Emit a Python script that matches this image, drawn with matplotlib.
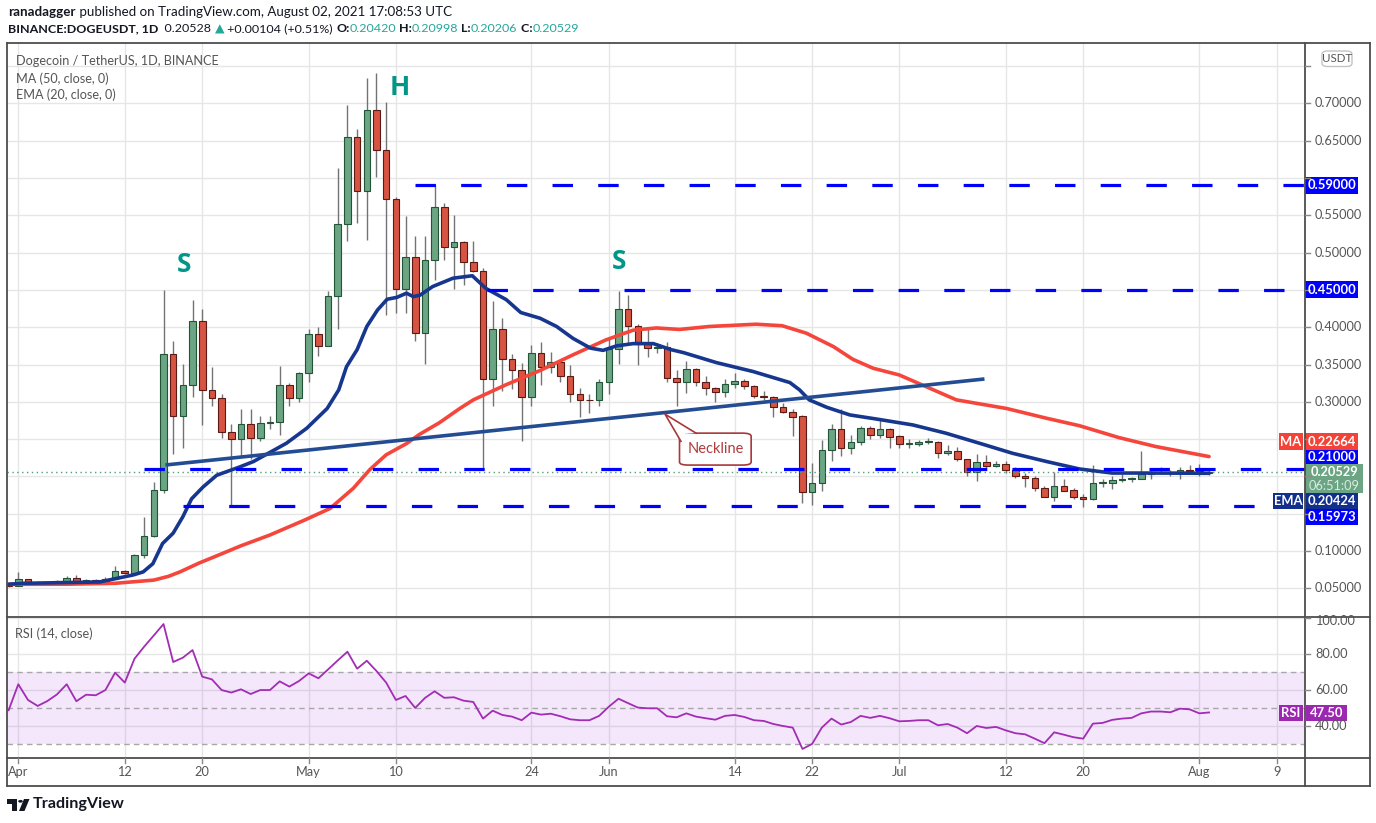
import numpy as np
import matplotlib
matplotlib.use('Agg')
import matplotlib.pyplot as plt
from matplotlib.patches import Rectangle, FancyBboxPatch, Polygon, Circle
from matplotlib.lines import Line2D

W, H = 1376, 823
FONT = ['Lato', 'DejaVu Sans']
plt.rcParams['font.family'] = FONT

# ---------------- data ----------------
day = list(range(-1, 124))   # 0 = Apr 1 2021, 123 = Aug 2 2021
opens = [0.0545, 0.0530, 0.0620, 0.0570, 0.0555, 0.0568, 0.0590, 0.0635, 0.0580, 0.0610,
         0.0590, 0.0630, 0.0737, 0.0700, 0.0946, 0.1200, 0.1820, 0.3640, 0.2810, 0.3220,
         0.4090, 0.3160, 0.3050, 0.2600, 0.2500, 0.2700, 0.2510, 0.2710, 0.2730, 0.3230,
         0.3050, 0.3380, 0.3910, 0.3750, 0.4420, 0.5390, 0.6550, 0.5820, 0.6910, 0.6370,
         0.5720, 0.4510, 0.4940, 0.3920, 0.4900, 0.5610, 0.5080, 0.5140, 0.4880, 0.4760,
         0.3300, 0.3970, 0.3580, 0.3420, 0.3060, 0.3660, 0.3460, 0.3530, 0.3340, 0.3110,
         0.3030, 0.3020, 0.3260, 0.3710, 0.4240, 0.4010, 0.3770, 0.3720, 0.3730, 0.3320,
         0.3260, 0.3440, 0.3260, 0.3190, 0.3130, 0.3240, 0.3280, 0.3210, 0.3080, 0.3070,
         0.2930, 0.2860, 0.2810, 0.1790, 0.1910, 0.2350, 0.2630, 0.2380, 0.2460, 0.2650,
         0.2560, 0.2630, 0.2540, 0.2440, 0.2440, 0.2460, 0.2460, 0.2310, 0.2340, 0.2240,
         0.2060, 0.2190, 0.2140, 0.2160, 0.2080, 0.2000, 0.1975, 0.1850, 0.1720, 0.1870,
         0.1820, 0.1730, 0.1700, 0.1910, 0.1910, 0.1950, 0.1960, 0.1970, 0.2030, 0.2050,
         0.2050, 0.2040, 0.2080, 0.2070, 0.2042]
closes = [0.0525, 0.0620, 0.0567, 0.0555, 0.0570, 0.0598, 0.0635, 0.0580, 0.0610, 0.0590,
          0.0630, 0.0737, 0.0700, 0.0946, 0.1200, 0.1820, 0.3640, 0.2810, 0.3220, 0.4090,
          0.3160, 0.3050, 0.2600, 0.2500, 0.2700, 0.2510, 0.2710, 0.2725, 0.3230, 0.3050,
          0.3380, 0.3910, 0.3750, 0.4420, 0.5390, 0.6550, 0.5820, 0.6910, 0.6370, 0.5720,
          0.4510, 0.4940, 0.3920, 0.4900, 0.5610, 0.5080, 0.5140, 0.4880, 0.4760, 0.3300,
          0.3970, 0.3580, 0.3420, 0.3060, 0.3660, 0.3460, 0.3530, 0.3340, 0.3110, 0.3030,
          0.3020, 0.3260, 0.3710, 0.4240, 0.4010, 0.3770, 0.3720, 0.3730, 0.3320, 0.3260,
          0.3440, 0.3260, 0.3180, 0.3130, 0.3240, 0.3280, 0.3210, 0.3080, 0.3070, 0.2930,
          0.2860, 0.2800, 0.1790, 0.1910, 0.2350, 0.2630, 0.2380, 0.2460, 0.2650, 0.2560,
          0.2630, 0.2530, 0.2440, 0.2450, 0.2460, 0.2465, 0.2310, 0.2340, 0.2240, 0.2060,
          0.2190, 0.2140, 0.2160, 0.2080, 0.2000, 0.1975, 0.1850, 0.1720, 0.1870, 0.1810,
          0.1730, 0.1700, 0.1910, 0.1920, 0.1950, 0.1970, 0.1980, 0.2030, 0.2050, 0.2040,
          0.2040, 0.2080, 0.2070, 0.2042, 0.2053]
highs = [0.0555, 0.0720, 0.0625, 0.0600, 0.0580, 0.0610, 0.0668, 0.0680, 0.0620, 0.0625,
         0.0650, 0.0800, 0.0745, 0.0960, 0.1460, 0.1930, 0.4500, 0.3810, 0.3510, 0.4360,
         0.4250, 0.3470, 0.3100, 0.2700, 0.2900, 0.2900, 0.2810, 0.2810, 0.3480, 0.3250,
         0.3400, 0.3980, 0.4000, 0.4490, 0.6140, 0.6980, 0.6660, 0.7340, 0.7410, 0.7020,
         0.5740, 0.5490, 0.5220, 0.5220, 0.5910, 0.5670, 0.5500, 0.5160, 0.5160, 0.4800,
         0.4350, 0.4120, 0.3640, 0.3520, 0.3760, 0.3800, 0.3670, 0.3550, 0.3490, 0.3180,
         0.3110, 0.3300, 0.3850, 0.4490, 0.4430, 0.4040, 0.3970, 0.3790, 0.3800, 0.3430,
         0.3550, 0.3450, 0.3350, 0.3200, 0.3310, 0.3380, 0.3310, 0.3230, 0.3150, 0.3080,
         0.2990, 0.2900, 0.2820, 0.2180, 0.2490, 0.2700, 0.2900, 0.2560, 0.2670, 0.2670,
         0.2750, 0.2650, 0.2560, 0.2500, 0.2490, 0.2520, 0.2480, 0.2420, 0.2390, 0.2240,
         0.2300, 0.2290, 0.2200, 0.2200, 0.2120, 0.2040, 0.2010, 0.1870, 0.2055, 0.1970,
         0.1850, 0.1770, 0.2150, 0.1970, 0.2000, 0.2030, 0.1990, 0.2340, 0.2080, 0.2120,
         0.2080, 0.2120, 0.2150, 0.2165, 0.2100]
lows = [0.0515, 0.0525, 0.0560, 0.0550, 0.0550, 0.0560, 0.0585, 0.0570, 0.0575, 0.0580,
        0.0585, 0.0625, 0.0690, 0.0690, 0.0910, 0.1185, 0.1780, 0.2300, 0.2380, 0.3060,
        0.2690, 0.2950, 0.2510, 0.1600, 0.2270, 0.2240, 0.2470, 0.2640, 0.2550, 0.2950,
        0.3000, 0.3270, 0.3620, 0.3750, 0.3980, 0.5160, 0.5400, 0.5170, 0.6010, 0.4160,
        0.4190, 0.4190, 0.3820, 0.3510, 0.4630, 0.4900, 0.4510, 0.4560, 0.4740, 0.2110,
        0.2940, 0.3140, 0.3170, 0.2480, 0.2950, 0.3220, 0.3380, 0.3270, 0.3000, 0.2800,
        0.2850, 0.2940, 0.3110, 0.3510, 0.3760, 0.3490, 0.3600, 0.3660, 0.3270, 0.2940,
        0.3120, 0.3210, 0.3090, 0.3000, 0.3070, 0.3190, 0.3170, 0.3050, 0.3030, 0.2800,
        0.2850, 0.2540, 0.1650, 0.1620, 0.1800, 0.2210, 0.2280, 0.2300, 0.2420, 0.2500,
        0.2520, 0.2380, 0.2380, 0.2380, 0.2410, 0.2430, 0.2250, 0.2290, 0.2200, 0.2000,
        0.1940, 0.2090, 0.2120, 0.2050, 0.1975, 0.1860, 0.1800, 0.1720, 0.1676, 0.1800,
        0.1700, 0.1595, 0.1680, 0.1860, 0.1830, 0.1920, 0.1920, 0.1960, 0.1960, 0.2030,
        0.2010, 0.1960, 0.2050, 0.2000, 0.2021]
rsi = [48.7, 63.1, 54.4, 51.1, 53.8, 57.5, 63.1, 53.7, 57.3, 57.0,
       59.9, 69.5, 64.0, 77.2, 83.9, 90.1, 96.4, 75.4, 77.8, 82.0,
       67.3, 65.8, 59.9, 58.5, 60.3, 57.7, 59.9, 59.9, 64.7, 61.8,
       64.9, 69.1, 66.4, 71.3, 76.3, 81.1, 71.7, 76.1, 70.4, 64.0,
       54.4, 56.6, 50.0, 55.5, 59.2, 55.6, 55.9, 54.0, 53.3, 44.1,
       48.5, 46.1, 45.2, 43.2, 47.4, 46.3, 46.8, 45.4, 43.7, 43.2,
       43.2, 45.6, 50.7, 55.1, 52.6, 50.2, 49.8, 49.8, 45.4, 44.8,
       47.0, 45.2, 44.3, 43.5, 45.6, 46.1, 45.0, 43.2, 42.8, 41.1,
       40.0, 39.1, 27.3, 30.1, 39.1, 44.1, 40.8, 42.2, 45.6, 44.5,
       45.6, 44.3, 42.6, 42.8, 43.2, 43.2, 40.4, 41.1, 39.1, 36.0,
       40.0, 38.9, 39.5, 37.6, 36.0, 35.4, 33.0, 30.5, 36.5, 35.2,
       33.8, 33.0, 41.3, 41.7, 43.4, 44.1, 44.5, 47.0, 48.0, 48.0,
       47.6, 49.6, 49.2, 47.0, 47.5]
ma_day = [-1, 5, 10, 14, 15.5, 16.7, 18.7, 20.7, 23, 26, 29.6, 32.2, 34.6, 36.3, 38,
          40.1, 41.4, 43.5, 45.6, 47, 50.4, 53.9, 57.3, 60.7, 63.5, 65.9, 68.3, 71.4,
          76.2, 78.9, 81.4, 84.2, 86.2, 88.3, 91, 96.9, 102.1, 106.2, 109.6, 113.7,
          117.5, 123]
ma_val = [0.0553, 0.0555, 0.0567, 0.0610, 0.0660, 0.0720, 0.0840, 0.0946, 0.1070, 0.1215,
          0.1416, 0.1570, 0.1840, 0.2090, 0.2290, 0.2440, 0.2560, 0.2720, 0.2910, 0.3026,
          0.3230, 0.3420, 0.3630, 0.3830, 0.3960, 0.3990, 0.3970, 0.4010, 0.4040, 0.4020,
          0.3920, 0.3740, 0.3570, 0.3450, 0.3360, 0.3026, 0.2910, 0.2780, 0.2680, 0.2520,
          0.2400, 0.2266]
ema_day = [-1, 0.6, 8.4, 11.9, 12.9, 13.9, 14.9, 16, 17, 17.9, 19.1, 20.5, 22.9, 24.3,
           27.7, 29.8, 31.9, 33.1, 33.9, 35, 36, 37.1, 38.1, 39.1, 40.1, 40.8, 41.5, 42.8,
           44.9, 46.9, 48.3, 50.4, 51.9, 53.9, 55.6, 57.3, 59.1, 60.4, 61.8, 63.5, 65.6,
           67.4, 68.7, 72.1, 75.9, 79.7, 80.7, 81.7, 83.5, 85.9, 88.6, 92.4, 95.8, 99.3,
           102.7, 106.2, 109.6, 113, 117, 123]
ema_val = [0.0555, 0.0567, 0.0585, 0.0680, 0.0720, 0.0830, 0.1100, 0.1240, 0.1460, 0.1700,
           0.1860, 0.2016, 0.2128, 0.2200, 0.2445, 0.2646, 0.2910, 0.3160, 0.3470, 0.3700,
           0.4010, 0.4230, 0.4375, 0.4400, 0.4456, 0.4410, 0.4430, 0.4545, 0.4657, 0.4690,
           0.4520, 0.4370, 0.4197, 0.4120, 0.4010, 0.3850, 0.3720, 0.3690, 0.3750, 0.3780,
           0.3780, 0.3700, 0.3660, 0.3526, 0.3406, 0.3258, 0.3160, 0.3026, 0.2927, 0.2824,
           0.2770, 0.2690, 0.2580, 0.2444, 0.2310, 0.2200, 0.2100, 0.2045, 0.2045, 0.2042]
neck_day = [15.2, 99.8]
neck_val = [0.2153, 0.3306]
levels = [0.59, 0.45, 0.21, 0.15973]
level_start = [41.0, 48.4, 13.0, 17.0]
date_ticks = [0, 11, 19, 30, 39, 53, 61, 74, 82, 91, 102, 110, 122, 130]
date_labels = ['Apr', '12', '20', 'May', '10', '24', 'Jun', '14', '22', 'Jul', '12', '20', 'Aug', '9']
price_ticks = [0.05, 0.10, 0.15, 0.20, 0.25, 0.30, 0.35, 0.40, 0.45, 0.50, 0.55, 0.60, 0.65, 0.70, 0.75]
rsi_grid = [40, 60, 80, 100]
rsi_labels = [40, 60, 80, 100]
rsi_dashed = [30, 50, 70]
last_price = 0.20529
ma_last = 0.22664
ema_last = 0.20424
rsi_last = 47.50
pattern_labels = [('S', 17.1, 0.4846), ('H', 39.4, 0.7208), ('S', 62.1, 0.4875)]

# ---------------- styling ----------------
GREEN, GREEN_E = '#6ba583', '#225437'
RED, RED_E = '#d75442', '#5b1a13'
WICK = '#737375'
MA_C = '#f5463c'
EMA_C = '#17378f'
NECK_C = '#244c92'
LVL_C = '#0000ff'
GRID = '#e6e6e6'
TXT = '#555555'
DARK = '#131722'
TEAL = '#26a69a'
FRAME = '#4d4d4d'

fig = plt.figure(figsize=(W / 100, H / 100), dpi=100)
fig.patch.set_facecolor('white')
r = fig.canvas.get_renderer()

def fx(x):
    return x / W

def fy(y):
    return 1 - y / H

ax = fig.add_axes([fx(7), fy(617), (1305 - 7) / W, (617 - 43) / H])
ax2 = fig.add_axes([fx(7), fy(758), (1305 - 7) / W, (758 - 617) / H])
XL = (-1.167, 132.91)
for a in (ax, ax2):
    a.set_xlim(*XL)
    a.set_xticks([])
    a.set_yticks([])
    for s in a.spines.values():
        s.set_visible(False)
    a.set_facecolor('white')
ax.set_ylim(0.01153, 0.7810)
ax2.set_ylim(22.3, 100.3)

# grids
for t in date_ticks:
    ax.axvline(t, color=GRID, lw=1, zorder=0)
    ax2.axvline(t, color=GRID, lw=1, zorder=0)
for p in price_ticks:
    ax.axhline(p, color=GRID, lw=1, zorder=0)
for g in rsi_grid:
    ax2.axhline(g, color=GRID, lw=1, zorder=0)

# ---------------- candles ----------------
o = np.array(opens); c = np.array(closes); hi = np.array(highs); lo = np.array(lows)
x = np.array(day)
up = c >= o
ax.vlines(x, lo, hi, color=WICK, lw=1.0, zorder=2)
bot = np.minimum(o, c)
hgt = np.maximum(np.abs(c - o), 0.0008)
ax.bar(x[up], hgt[up], bottom=bot[up], width=0.68, color=GREEN, edgecolor=GREEN_E, lw=0.8, zorder=3)
ax.bar(x[~up], hgt[~up], bottom=bot[~up], width=0.68, color=RED, edgecolor=RED_E, lw=0.8, zorder=3)

# lines
ax.plot(ma_day, ma_val, color=MA_C, lw=2.6, zorder=5, solid_capstyle='round', solid_joinstyle='round')
ax.plot(ema_day, ema_val, color=EMA_C, lw=2.6, zorder=5, solid_capstyle='round', solid_joinstyle='round')
ax.plot(neck_day, neck_val, color=NECK_C, lw=2.6, zorder=5, solid_capstyle='butt')
for lv, st in zip(levels, level_start):
    ax.plot([st, XL[1]], [lv, lv], color=LVL_C, lw=2.3, dashes=(6.4, 7.9), zorder=6,
            solid_capstyle='butt', dash_capstyle='butt')
ax.axhline(last_price, color='#4f9e77', lw=1.0, ls=(0, (1, 2.5)), zorder=4)

# pattern letters
for s, dx, dy in pattern_labels:
    ax.text(dx, dy, s, color='#009688', fontsize=19, fontweight='bold', ha='center', va='center', zorder=7,
            family=['Open Sans', 'DejaVu Sans'])

# Neckline callout
tip = (66.8, 0.2835)
bx0, bx1 = 68.3, 75.7
by0, by1 = 0.2152, 0.2580
box = FancyBboxPatch((bx0, by0), bx1 - bx0, by1 - by0, boxstyle='round,pad=0,rounding_size=0.9',
                     mutation_aspect=0.0045, fc='white', ec='#a8383a', lw=1.2, zorder=8)
ax.add_patch(box)
p1 = (68.45, 0.2470)
p2 = (70.0, by1)
ax.add_patch(Polygon([tip, p1, (68.9, by1 - 0.001), p2], closed=True, fc='white', ec='none', zorder=8.5))
ax.plot([p1[0], tip[0], p2[0]], [p1[1], tip[1], p2[1]], color='#a8383a', lw=1.2, zorder=9)
ax.text((bx0 + bx1) / 2, (by0 + by1) / 2, 'Neckline', color='#b03c3c', fontsize=10.5, ha='center', va='center', zorder=10)

# ---------------- RSI ----------------
ax2.axhspan(30, 70, color='#9b26e6', alpha=0.11, lw=0, zorder=1)
for dv in rsi_dashed:
    ax2.axhline(dv, color='#a8a8a8', lw=1, ls=(0, (4, 3)), zorder=2)
ax2.plot(day, rsi, color='#a22cb4', lw=1.3, zorder=4)

# ---------------- frame ----------------
def hline(y, x0, x1, color=FRAME, lw=1.3):
    fig.add_artist(Line2D([fx(x0), fx(x1)], [fy(y), fy(y)], color=color, lw=lw))

def vline(xp, y0, y1, color=FRAME, lw=1.3):
    fig.add_artist(Line2D([fx(xp), fx(xp)], [fy(y0), fy(y1)], color=color, lw=lw))

hline(43, 7, 1370); hline(617, 7, 1370); hline(758, 7, 1370); hline(786, 7, 1370)
vline(7, 43, 786); vline(1305, 43, 786); vline(1370, 43, 786)

# ---------------- texts ----------------
def seq_pieces(x0, yc, pieces, size):
    xs = x0
    arts = []
    for txt, col, wt in pieces:
        t = fig.text(fx(xs), fy(yc), txt, color=col, fontweight=wt, fontsize=size, va='center', ha='left')
        arts.append(t)
        xs += t.get_window_extent(r).width
    return arts, xs - x0

def fit_pieces(x0, yc, pieces, target):
    arts, w = seq_pieces(x0, yc, pieces, 10)
    for a in arts:
        a.remove()
    seq_pieces(x0, yc, pieces, 10 * target / w)

def fit_text(x0, yc, s, target, color=TXT, wt='normal', ha='left'):
    t = fig.text(fx(x0), fy(yc), s, color=color, fontsize=10, fontweight=wt, va='center', ha=ha)
    w = t.get_window_extent(r).width
    t.set_fontsize(10 * target / w)
    return t

fit_pieces(8, 12, [('ranadagger', DARK, 'bold'),
                   (' published on TradingView.com, August 02, 2021 17:08:53 UTC', DARK, 'normal')], 445)
fit_pieces(8, 29, [('BINANCE:DOGEUSDT, 1D', DARK, 'bold'), ('  0.20528 ', DARK, 'normal'),
                   ('\u25B2', TEAL, 'normal'), (' +0.00104 (+0.51%) ', DARK, 'normal'),
                   ('O:', DARK, 'bold'), ('0.20420', TEAL, 'normal'), (' H:', DARK, 'bold'),
                   ('0.20998', TEAL, 'normal'), (' L:', DARK, 'bold'), ('0.20206', TEAL, 'normal'),
                   (' C:', DARK, 'bold'), ('0.20529', TEAL, 'normal')], 569)
fit_text(16, 61, 'Dogecoin / TetherUS, 1D, BINANCE', 203)
fit_text(16, 79, 'MA (50, close, 0)', 93)
fit_text(16, 95, 'EMA (20, close, 0)', 100)
fit_text(15, 634, 'RSI (14, close)', 78)

# date labels
for t, lab in zip(date_ticks, date_labels):
    xp = ax2.transData.transform((t, 0))[0]
    fig.text(xp / W, fy(772), lab, color=TXT, fontsize=9.2, ha='center', va='center')
    fig.add_artist(Line2D([xp / W, xp / W], [fy(758), fy(763)], color='#888888', lw=1))

def ypix(a, v):
    return H - a.transData.transform((0, v))[1]

# right-hand tag boxes (pixel rows), drawn above the axis labels
y59 = ypix(ax, levels[0]); y45 = ypix(ax, levels[1])
tags = [
    (1305, y59 - 8.5, 1358, y59 + 8.5, LVL_C, f'{levels[0]:.5f}'),
    (1305, y45 - 8.5, 1358, y45 + 8.5, LVL_C, f'{levels[1]:.5f}'),
    (1279, 433, 1303, 450, '#f44336', 'MA'),
    (1305, 433, 1358, 450, '#f44336', f'{ma_last:.5f}'),
    (1305, 450, 1358, 464, LVL_C, f'{levels[2]:.5f}'),
    (1305, 464, 1363, 493, '#6ba583', None),
    (1273, 493, 1303, 509, '#132f8c', 'EMA'),
    (1305, 493, 1358, 509, '#132f8c', f'{ema_last:.5f}'),
    (1305, 509, 1358, 525, LVL_C, f'{levels[3]:.5f}'),
]
covered = [(t[1] - 5, t[3] + 5) for t in tags] + [(48, 72)]

# price axis labels (skip the ones hidden under tags)
for p in price_ticks:
    yp = ypix(ax, p)
    fig.add_artist(Line2D([fx(1305), fx(1310)], [fy(yp), fy(yp)], color='#888888', lw=1))
    if any(a0 <= yp <= a1 for a0, a1 in covered):
        continue
    fig.text(fx(1315), fy(yp), f'{p:.5f}', color=TXT, fontsize=9.2, ha='left', va='center')
for g in rsi_labels:
    yp = ypix(ax2, g)
    fig.add_artist(Line2D([fx(1305), fx(1310)], [fy(yp), fy(yp)], color='#888888', lw=1))
    fig.text(fx(1315), fy(yp + (3 if g == 100 else 0)), f'{g:.2f}', color=TXT, fontsize=9.2,
             ha='left', va='center')

def pbox(x0, y0, x1, y1, fc, text=None, tc='white', fs=9.4, wt='bold'):
    fig.add_artist(Rectangle((fx(x0), fy(y1)), (x1 - x0) / W, (y1 - y0) / H, fc=fc, ec='none',
                             transform=fig.transFigure))
    if text is not None:
        fig.text(fx((x0 + x1) / 2), fy((y0 + y1) / 2), text, color=tc, fontsize=fs, fontweight=wt,
                 ha='center', va='center')

for t in tags:
    pbox(*t)
fig.text(fx(1334), fy(472), f'{last_price:.5f}', color='white', fontsize=9.2, fontweight='bold', ha='center', va='center')
fig.text(fx(1334), fy(486), '06:51:09', color='#d8ece0', fontsize=9.2, ha='center', va='center')
pbox(1279, 705, 1303, 721, '#9c27b0', 'RSI')
pbox(1306, 705, 1347, 721, '#9c27b0', f'{rsi_last:.2f}')

# USDT tag
fig.add_artist(FancyBboxPatch((fx(1322), fy(66.5)), 30 / W, 15.5 / H, boxstyle='round,pad=0,rounding_size=0.004',
                              fc='white', ec='#c4c4c4', lw=1, transform=fig.transFigure))
fig.text(fx(1337), fy(58.5), 'USDT', color=TXT, fontsize=8.3, ha='center', va='center')

# TradingView logo
fig.add_artist(Rectangle((fx(7), fy(803.5)), 10 / W, 4.5 / H, fc=DARK, ec='none', transform=fig.transFigure))
fig.add_artist(Rectangle((fx(12), fy(811)), 5 / W, 12 / H, fc=DARK, ec='none', transform=fig.transFigure))
fig.add_artist(Circle((fx(20.5), fy(801.3)), 2.3 / W, fc=DARK, ec='none', transform=fig.transFigure))
fig.add_artist(Polygon([(fx(24), fy(799)), (fx(29.5), fy(799)), (fx(24.5), fy(811)), (fx(19), fy(811))],
                       closed=True, fc=DARK, ec='none', transform=fig.transFigure))
fit_text(33, 804, 'TradingView', 92, color=DARK, wt='bold')

fig.savefig('out.png', dpi=100)
